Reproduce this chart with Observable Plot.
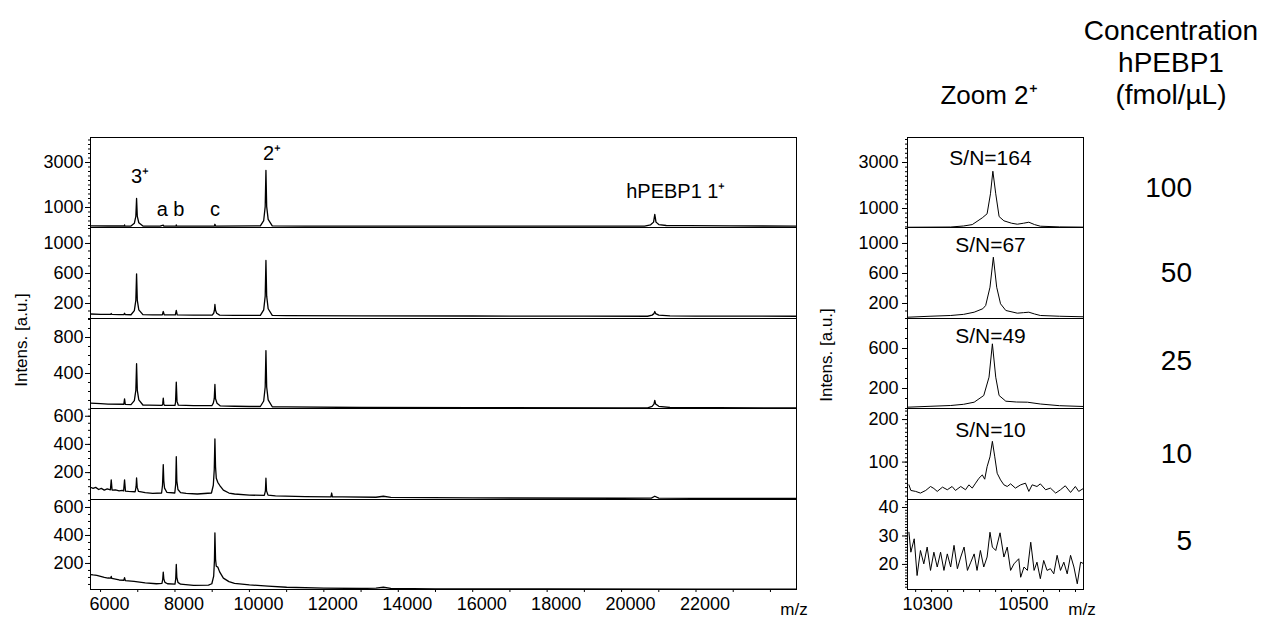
<!DOCTYPE html>
<html><head><meta charset="utf-8">
<script src="https://cdn.jsdelivr.net/npm/d3@7"></script>
<script src="https://cdn.jsdelivr.net/npm/@observablehq/plot@0.6"></script>
<style>
body{margin:0;background:#fff;font-family:"Liberation Sans",Arial,sans-serif;}
#wrap{position:relative;width:1270px;height:618px;overflow:hidden;background:#fff;}
#wrap svg{position:absolute;max-width:none;}
</style></head><body><div id="wrap"></div>
<script>
// ---------------- data ----------------
const concentrations = ["100", "50", "25", "10", "5"];
const snLabels = ["S/N=164", "S/N=67", "S/N=49", "S/N=10"];
const snMz = [10456, 10456, 10456, 10456];
const snIntensity = [2870, 880, 660, 158];

const peakLabels = ["3⁺", "a b", "c", "2⁺", "hPEBP1 1⁺"];
const peakLabelMz = [7062, 7882, 9078, 10610, 21457];
const peakLabelIntensity = [2067, 644, 644, 3089, 1444];

const fullTicks = [6000, 8000, 10000, 12000, 14000, 16000, 18000, 20000, 22000];
const fullMinorTicks = [6000, 7000, 8000, 9000, 10000, 11000, 12000, 13000, 14000, 15000, 16000, 17000, 18000, 19000, 20000, 21000, 22000, 23000, 24000];
const zoomTicks = [10300, 10500];
const zoomMinorTicks = [10300, 10333.3, 10366.7, 10400, 10433.3, 10466.7, 10500, 10533.3, 10566.7, 10600, 10633.3];

// full spectra [m/z, intensity]
const spec100 = [[5730,180],[6200,178],[6640,178],[6645,225],[6650,178],[6818,176],[6908,298],[6948,604],[6968,1400],[6988,604],[7028,322],[7138,178],[7600,176],[7685,215],[7700,176],[8030,176],[8035,225],[8045,176],[9060,176],[9073,255],[9090,176],[10294,180],[10384,420],[10424,1040],[10444,2650],[10464,1040],[10504,470],[10614,182],[11500,176],[13000,175],[16000,174],[20620,175],[20780,230],[20860,350],[20892,690],[20925,350],[21000,240],[21200,200],[21800,190],[22900,180],[24700,176]];
const spec50 = [[5730,60],[6000,56],[6270,54],[6287,66],[6305,54],[6500,52],[6625,52],[6645,70],[6665,52],[6818,50],[6908,105],[6948,241],[6968,596],[6988,241],[7028,116],[7138,52],[7400,49],[7660,48],[7685,93],[7710,50],[8010,48],[8035,107],[8060,48],[8500,45],[9000,45],[9040,70],[9060,110],[9073,187],[9090,110],[9120,70],[9200,45],[9600,42],[10294,42],[10384,115],[10424,298],[10444,773],[10464,298],[10504,130],[10614,42],[11000,38],[13000,35],[16000,33],[19000,31],[20700,30],[20820,45],[20870,65],[20892,93],[20915,65],[21000,45],[21300,35],[22000,32],[24700,30]];
const spec25 = [[5730,70],[6000,65],[6200,60],[6625,58],[6645,119],[6665,56],[6818,54],[6908,98],[6948,212],[6968,508],[6988,212],[7028,107],[7138,50],[7300,48],[7655,46],[7670,62],[7685,126],[7700,62],[7715,46],[8000,46],[8015,80],[8035,304],[8055,90],[8090,48],[8500,42],[8990,42],[9030,70],[9055,120],[9073,278],[9090,120],[9130,70],[9220,40],[9600,36],[10000,33],[10294,33],[10384,94],[10424,250],[10444,655],[10464,250],[10504,107],[10614,30],[11000,28],[13000,22],[16000,20],[20000,18],[20700,18],[20820,35],[20870,60],[20892,100],[20915,60],[21000,35],[21300,22],[24700,17]];
const spec10 = [[5730,96],[5800,88],[5870,95],[5950,80],[6020,88],[6100,76],[6180,85],[6265,78],[6287,148],[6310,76],[6400,78],[6500,70],[6580,74],[6620,70],[6645,148],[6670,68],[6750,66],[6930,64],[6955,100],[6968,162],[6985,95],[7020,66],[7200,58],[7400,53],[7640,55],[7665,110],[7685,257],[7700,140],[7720,90],[7780,60],[7995,55],[8020,120],[8035,313],[8050,140],[8080,80],[8150,58],[8300,52],[8600,48],[8980,55],[9030,110],[9055,220],[9073,439],[9090,240],[9110,160],[9150,131],[9200,110],[9300,75],[9450,55],[9600,48],[10000,40],[10400,38],[10430,70],[10444,160],[10460,70],[10500,40],[10700,35],[11500,30],[12190,28],[12210,55],[12230,28],[12500,27],[13400,25],[13600,32],[13800,24],[16000,20],[20000,18],[20800,19],[20892,32],[21000,19],[22000,17],[24700,16]];
const spec5 = [[5730,121],[5800,118],[5900,115],[6000,108],[6100,100],[6200,96],[6270,95],[6287,107],[6305,93],[6400,88],[6500,82],[6625,80],[6645,98],[6665,78],[6900,72],[7200,62],[7500,55],[7650,58],[7670,85],[7685,138],[7700,90],[7730,65],[7800,55],[8000,52],[8020,90],[8035,193],[8050,100],[8080,65],[8150,52],[8500,43],[8900,45],[8990,55],[9040,110],[9060,220],[9073,419],[9090,230],[9110,180],[9150,174],[9200,140],[9300,95],[9450,70],[9600,58],[10000,47],[10500,38],[11000,30],[12000,24],[13000,21],[13400,24],[13600,30],[13800,22],[15000,19],[18000,18],[22000,17],[24700,16]];

// zoomed 2+ region [m/z, intensity]
const zoom100 = [[10283,185],[10330,190],[10373,195],[10400,240],[10418,300],[10439,595],[10449,770],[10456,1640],[10461,2620],[10467,1640],[10474,650],[10484,465],[10500,360],[10512,317],[10525,360],[10536,404],[10548,300],[10560,230],[10600,200],[10650,190]];
const zoom50 = [[10283,17],[10330,30],[10373,40],[10400,55],[10422,84],[10440,130],[10446,173],[10455,417],[10462,817],[10469,417],[10477,196],[10488,107],[10512,71],[10525,78],[10536,84],[10548,60],[10560,40],[10600,30],[10650,23]];
const zoom25 = [[10283,13],[10330,22],[10373,30],[10400,42],[10422,63],[10442,130],[10453,313],[10460,647],[10467,313],[10474,130],[10488,73],[10510,65],[10533,63],[10560,45],[10600,28],[10650,20]];
const zoom10 = [[10286,46.5],[10290,33.3],[10300,31],[10310,27.1],[10321,33.3],[10331,42.6],[10338,37.9],[10345,31],[10356,41.1],[10366,34.9],[10376,42.6],[10383,33.3],[10394,42.6],[10404,34.9],[10411,46.5],[10418,38.8],[10425,50.4],[10432,62],[10439,69.8],[10444,59.7],[10449,89.1],[10455,112.3],[10460,148.8],[10465,112.3],[10470,73.7],[10477,58.1],[10484,46.5],[10491,42.6],[10498,48.8],[10508,38.8],[10519,46.5],[10529,50.4],[10536,31],[10543,46.5],[10553,42.6],[10560,48.8],[10571,34.9],[10581,38.8],[10592,27.1],[10602,34.9],[10612,44.2],[10623,28.6],[10633,42.6],[10640,31],[10651,38.8]];
const zoom5 = [[10286,31.3],[10290,24.3],[10297,29.0],[10303,16.1],[10310,24.9],[10317,20.2],[10324,26.1],[10331,17.9],[10338,24.3],[10345,19.1],[10352,24.3],[10359,17.9],[10366,23.7],[10373,19.1],[10380,26.7],[10387,18.5],[10394,22.6],[10401,26.1],[10408,17.9],[10415,20.8],[10422,23.7],[10428,17.9],[10435,24.9],[10442,19.1],[10449,22.6],[10455,31.3],[10460,26.1],[10467,24.9],[10476,31.1],[10484,22.6],[10491,26.1],[10498,17.9],[10505,20.2],[10515,22.0],[10519,15.5],[10526,19.1],[10533,17.9],[10540,27.8],[10547,17.9],[10553,20.8],[10560,15.0],[10567,21.4],[10574,17.9],[10581,18.5],[10588,16.7],[10595,23.2],[10602,17.9],[10609,20.8],[10616,16.7],[10623,23.2],[10630,19.1],[10637,13.2],[10644,20.8],[10651,20.2]];

const fullSpectra = [spec100, spec50, spec25, spec10, spec5];
const zoomSpectra = [zoom100, zoom50, zoom25, zoom10, zoom5];

// y scales of each row (left / right) and their tick labels
const leftYDomains = [[111, 4111], [0, 1213], [11, 1011], [9, 655], [14, 657]];
const leftYTicks = [[1000, 3000], [200, 600, 1000], [400, 800], [200, 400, 600], [200, 400, 600]];
const leftYMinorStep = [200, 100, 100, 50, 50];
const rightYDomains = [[174, 4087], [0, 1213], [0, 900], [12, 226], [11.2, 42.8]];
const rightYTicks = [[1000, 3000], [200, 600, 1000], [200, 600], [100, 200], [20, 30, 40]];
const rightYMinorStep = [200, 100, 100, 10, 1];

// ---------------- layout ----------------
const FONT = "'Liberation Sans', Arial, Helvetica, sans-serif";
const TICK_FS = 18;
const rowTops = [137, 227, 318, 408, 499, 589];
const fullDomain = [5730, 24700];
const zoomDomain = [10283, 10650];
const wrap = document.getElementById("wrap");

function minorTicks(domain, step) {
  const lo = Math.ceil(domain[0] / step) * step;
  return d3.range(lo, domain[1] + 1e-9, step);
}

function panel(opts) {
  const {data, xDomain, yDomain, yTicks, yMinor, top, h, left, plotLeft, plotWidth, bottom, xTicks, xMinor, xDx, labelPad, extra, frameRight} = opts;
  const mb = bottom ? 30 : 0;
  const marks = [
    Plot.line(data, {x: d => d[0], y: d => d[1], stroke: "#000", strokeWidth: opts.sw, clip: true}),
    Plot.axisY({ticks: yMinor, tickSize: 2, tickFormat: () => "", label: null, stroke: "#000"}),
    Plot.axisY({ticks: yTicks, tickSize: 5, tickPadding: labelPad, tickFormat: d => String(d), label: null, fontSize: TICK_FS, fill: "#000", stroke: "#000"}),
    Plot.frame({stroke: "#000", strokeWidth: 1})
  ];
  if (bottom) {
    marks.push(Plot.axisX({ticks: xMinor, tickSize: 3, tickFormat: () => "", label: null, stroke: "#000"}));
    marks.push(Plot.axisX({ticks: xTicks, tickSize: 0, tickPadding: 8, dx: xDx, tickFormat: d => String(d), label: null, fontSize: TICK_FS, fill: "#000"}));
  }
  if (extra) marks.push(...extra);
  const svg = Plot.plot({
    width: plotLeft + plotWidth,
    height: h + mb,
    marginLeft: plotLeft, marginRight: 0, marginTop: 0, marginBottom: mb,
    style: {background: "transparent", overflow: "visible", fontFamily: FONT, fontSize: TICK_FS + "px", color: "#000"},
    x: {domain: xDomain, axis: null},
    y: {domain: yDomain, axis: null},
    marks
  });
  svg.style.left = left + "px";
  svg.style.top = top + "px";
  wrap.appendChild(svg);
}

const peakAnno = peakLabels.map((t, i) => ({t, x: peakLabelMz[i], y: peakLabelIntensity[i]}));

for (let i = 0; i < 5; i++) {
  const top = rowTops[i], h = rowTops[i + 1] - rowTops[i];
  const extraLeft = i === 0 ? [Plot.text(peakAnno, {x: "x", y: "y", text: "t", fontSize: 20, lineAnchor: "bottom", fill: "#000"})] : [];
  panel({
    data: fullSpectra[i], xDomain: fullDomain, yDomain: leftYDomains[i],
    yTicks: leftYTicks[i], yMinor: minorTicks(leftYDomains[i], leftYMinorStep[i]),
    top, h, left: 0, plotLeft: 90, plotWidth: 706, bottom: i === 4,
    xTicks: fullTicks, xMinor: fullMinorTicks, xDx: 9, labelPad: 2, sw: 1.3, extra: extraLeft
  });
  const extraRight = i < 4 ? [Plot.text([{t: snLabels[i], x: snMz[i], y: snIntensity[i]}], {x: "x", y: "y", text: "t", fontSize: 21, lineAnchor: "bottom", fill: "#000"})] : [];
  panel({
    data: zoomSpectra[i], xDomain: zoomDomain, yDomain: rightYDomains[i],
    yTicks: rightYTicks[i], yMinor: minorTicks(rightYDomains[i], rightYMinorStep[i]),
    top, h, left: 817, plotLeft: 90, plotWidth: 176, bottom: i === 4,
    xTicks: zoomTicks, xMinor: zoomMinorTicks, xDx: 12, labelPad: 4, sw: 1, extra: extraRight
  });
}

// ---------------- free text ----------------
const ov = d3.select(wrap).append("svg").attr("width", 1270).attr("height", 618)
  .style("left", "0px").style("top", "0px").style("font-family", FONT).attr("fill", "#000");
ov.append("text").attr("transform", "translate(21,340) rotate(-90)").attr("text-anchor", "middle").attr("dominant-baseline", "central").attr("font-size", 17).text("Intens. [a.u.]");
ov.append("text").attr("transform", "translate(826,355) rotate(-90)").attr("text-anchor", "middle").attr("dominant-baseline", "central").attr("font-size", 17).text("Intens. [a.u.]");
ov.append("text").attr("x", 794).attr("y", 615).attr("text-anchor", "middle").attr("font-size", 17).text("m/z");
ov.append("text").attr("x", 1082).attr("y", 615).attr("text-anchor", "middle").attr("font-size", 17).text("m/z");
ov.append("text").attr("x", 989).attr("y", 104).attr("text-anchor", "middle").attr("font-size", 26).text("Zoom 2⁺");
const headLines = ["Concentration", "hPEBP1", "(fmol/µL)"];
const headBase = [40, 72, 104];
headLines.forEach((t, i) => ov.append("text").attr("x", 1171).attr("y", headBase[i]).attr("text-anchor", "middle").attr("font-size", 28).text(t));
const concBase = [197, 282, 370, 463, 550];
concentrations.forEach((t, i) => ov.append("text").attr("x", 1192).attr("y", concBase[i]).attr("text-anchor", "end").attr("font-size", 28).text(t));
</script></body></html>
